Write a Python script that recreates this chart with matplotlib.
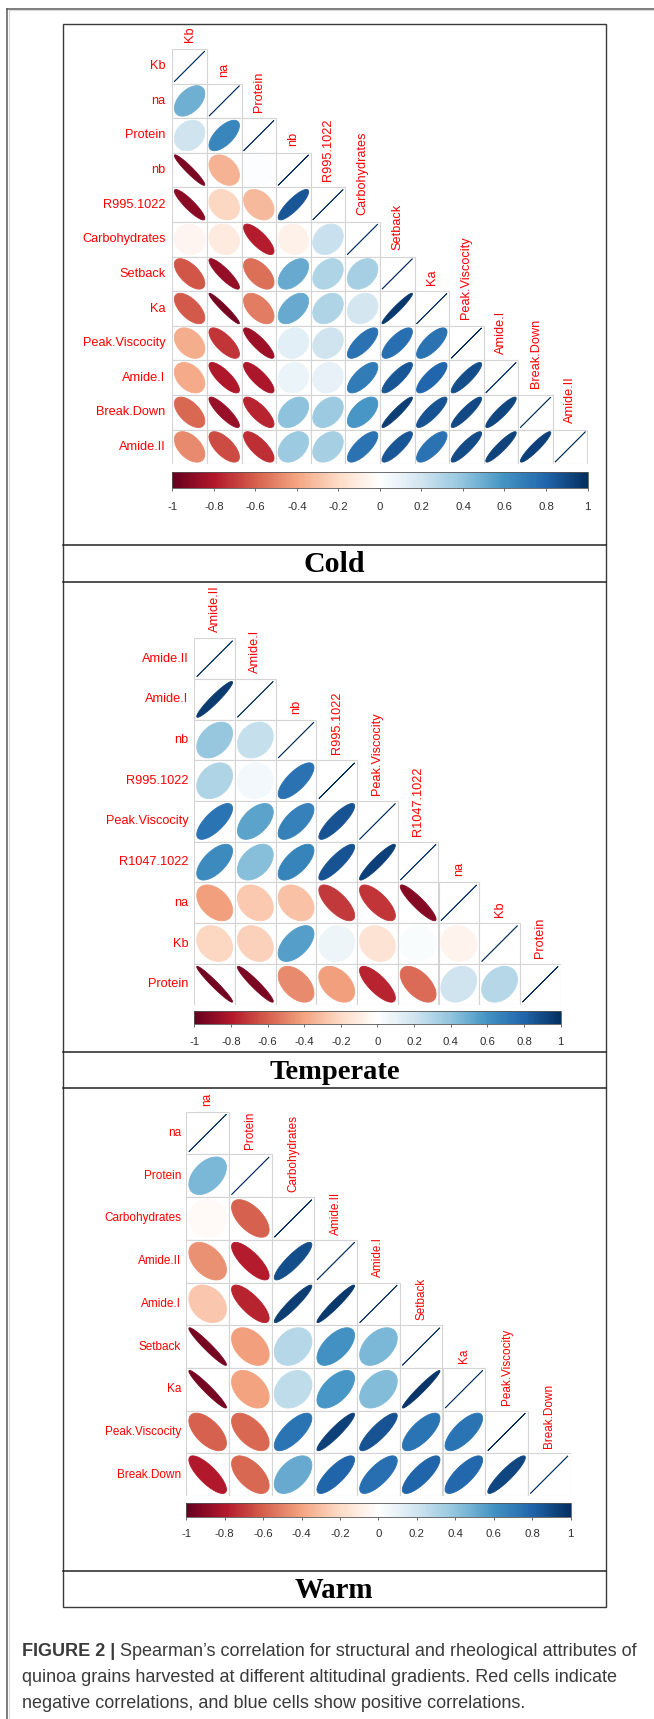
import numpy as np
import matplotlib.pyplot as plt
from matplotlib.colors import LinearSegmentedColormap, Normalize
from matplotlib.patches import Rectangle, Polygon
from matplotlib.cm import ScalarMappable

W, H = 654, 1719
plt.rcParams['font.family'] = ['Liberation Sans', 'DejaVu Sans']

# red-white-blue palette used by corrplot
rdbu = ["#67001F", "#B2182B", "#D6604D", "#F4A582", "#FDDBC7", "#FFFFFF",
        "#D1E5F0", "#92C5DE", "#4393C3", "#2166AC", "#053061"]
cmap = LinearSegmentedColormap.from_list("corr_rdbu", rdbu, N=200)
norm = Normalize(-1, 1)

cb_ticks = [-1, -0.8, -0.6, -0.4, -0.2, 0, 0.2, 0.4, 0.6, 0.8, 1]
cb_labels = ["-1", "-0.8", "-0.6", "-0.4", "-0.2", "0", "0.2", "0.4", "0.6", "0.8", "1"]

# --------------------------
# Spearman correlations (lower triangle, row by row)
# --------------------------
cold_vars = ["Kb", "na", "Protein", "nb", "R995.1022", "Carbohydrates", "Setback",
             "Ka", "Peak.Viscocity", "Amide.I", "Break.Down", "Amide.II"]
cold_lower = [
    [],
    [0.48],
    [0.20, 0.65],
    [-0.95, -0.35, 0.01],
    [-0.90, -0.22, -0.33, 0.85],
    [-0.06, -0.12, -0.78, -0.08, 0.22],
    [-0.63, -0.88, -0.55, 0.50, 0.30, 0.33],
    [-0.62, -0.96, -0.52, 0.50, 0.30, 0.18, 0.96],
    [-0.37, -0.72, -0.86, 0.12, 0.20, 0.74, 0.75, 0.74],
    [-0.38, -0.80, -0.81, 0.08, 0.10, 0.70, 0.85, 0.79, 0.88],
    [-0.58, -0.87, -0.77, 0.40, 0.36, 0.58, 0.94, 0.86, 0.90, 0.91],
    [-0.48, -0.66, -0.74, 0.36, 0.33, 0.74, 0.85, 0.74, 0.89, 0.92, 0.93],
]

temp_vars = ["Amide.II", "Amide.I", "nb", "R995.1022", "Peak.Viscocity",
             "R1047.1022", "na", "Kb", "Protein"]
temp_lower = [
    [],
    [0.95],
    [0.38, 0.23],
    [0.30, 0.05, 0.74],
    [0.73, 0.53, 0.67, 0.86],
    [0.63, 0.42, 0.66, 0.86, 0.93],
    [-0.42, -0.27, -0.30, -0.71, -0.72, -0.91],
    [-0.22, -0.24, 0.55, 0.07, -0.16, 0.02, -0.07],
    [-0.97, -0.95, -0.48, -0.42, -0.77, -0.56, 0.20, 0.28],
]

warm_vars = ["na", "Protein", "Carbohydrates", "Amide.II", "Amide.I", "Setback",
             "Ka", "Peak.Viscocity", "Break.Down"]
warm_lower = [
    [],
    [0.45],
    [-0.03, -0.60],
    [-0.46, -0.78, 0.88],
    [-0.28, -0.77, 0.94, 0.96],
    [-0.96, -0.42, 0.28, 0.60, 0.45],
    [-0.96, -0.41, 0.25, 0.58, 0.43, 0.97],
    [-0.60, -0.58, 0.73, 0.93, 0.86, 0.73, 0.73],
    [-0.79, -0.58, 0.50, 0.80, 0.75, 0.80, 0.78, 0.91],
]

fig = plt.figure(figsize=(W / 100, H / 100), dpi=100)

# page-level axes in pixel units for frames, titles and caption
bg = fig.add_axes([0, 0, 1, 1])
bg.set_xlim(0, W)
bg.set_ylim(H, 0)
bg.axis('off')

t = np.linspace(0, 2 * np.pi, 120)


def ellipse(r, cx, cy):
    # corrplot-style ellipse: axes shrink with |r|, tilt follows the sign
    a = np.arccos(np.clip(r, -1, 1)) / 2
    ex = 0.88 * np.cos(t + a) / 2
    ey = 0.88 * np.cos(t - a) / 2
    return np.column_stack([cx + ex, cy - ey])


def corr_panel(names, lower, left, top, cell, fs, gap, cb_gap, cb_h, cb_pad):
    n = len(names)
    size = n * cell
    ax = fig.add_axes([left / W, 1 - (top + size) / H, size / W, size / H])
    ax.set_xlim(0, n)
    ax.set_ylim(n, 0)
    ax.axis('off')
    g = gap / cell
    lab = dict(color='#ff0000', fontsize=fs, clip_on=False)
    for i in range(n):
        row = list(lower[i]) + [1.0]
        for j, r in enumerate(row):
            ax.add_patch(Rectangle((j, i), 1, 1, facecolor='white',
                                   edgecolor='#d4d4d4', lw=0.8, zorder=1))
            c = cmap(norm(r))
            ax.add_patch(Polygon(ellipse(r, j + 0.5, i + 0.5), closed=True,
                                 facecolor=c, edgecolor=c, lw=0.6, zorder=2))
        ax.text(-g, i + 0.5, names[i], ha='right', va='center', **lab)
        ax.text(i + 0.5, i - g, names[i], ha='center', va='bottom', rotation=90, **lab)

    cb_top = top + size + cb_gap
    cax = fig.add_axes([left / W, 1 - (cb_top + cb_h) / H, size / W, cb_h / H])
    cb = fig.colorbar(ScalarMappable(norm=norm, cmap=cmap), cax=cax,
                      orientation='horizontal')
    cb.set_ticks(cb_ticks)
    cb.set_ticklabels(cb_labels)
    cb.outline.set_linewidth(0.6)
    cb.outline.set_edgecolor('#555555')
    cax.tick_params(axis='x', length=2.2, width=0.6, color='#555555',
                    labelsize=8.2, labelcolor='#2e2e2e', pad=cb_pad)


corr_panel(cold_vars, cold_lower, 172.3, 49.0, 34.6, 9.2, 6.6, 8.0, 15.4, 8.3)
corr_panel(temp_vars, temp_lower, 194.3, 638.3, 40.7, 9.2, 6.0, 6.4, 13.3, 7.3)
corr_panel(warm_vars, warm_lower, 186.3, 1111.7, 42.7, 8.5, 5.2, 6.7, 14.0, 6.3)

# page border
bg.plot([7.3, 7.3], [H + 5, 9], color='#5a5a5a', lw=1.1)
bg.plot([7.3, W + 5], [9, 9], color='#5a5a5a', lw=1.1)
bg.plot([8.8, 8.8], [H + 5, 10.5], color='#d8d8d8', lw=0.8)
bg.plot([8.8, W + 5], [10.5, 10.5], color='#d8d8d8', lw=0.8)

# panel frame and dividers
bx0, bx1, by0, by1 = 62.7, 606.0, 24.3, 1606.7
bg.add_patch(Rectangle((bx0, by0), bx1 - bx0, by1 - by0, fill=False,
                       edgecolor='#3a3a3a', lw=1.0))
dividers = [545.0, 581.7, 1052.3, 1088.3, 1570.7]
for yd in dividers:
    bg.plot([bx0, bx1], [yd, yd], color='#222222', lw=1.1)

titles = ["Cold", "Temperate", "Warm"]
title_tops = [545.0, 1052.3, 1570.7]
title_sizes = [21.5, 20.5, 20.8]
for name, yt, fs in zip(titles, title_tops, title_sizes):
    bg.text((bx0 + bx1) / 2, yt + 27, name, ha='center', va='baseline',
            family=['Liberation Serif', 'DejaVu Serif'], fontweight='bold',
            fontsize=fs, color='black')

# caption
cap_color = '#3a3a3a'
cap_x = 21.7
cap_lines = ["Spearman\u2019s correlation for structural and rheological attributes of",
             "quinoa grains harvested at different altitudinal gradients. Red cells indicate",
             "negative correlations, and blue cells show positive correlations."]
cap_base = [1656.5, 1682.0, 1707.5]
head = bg.text(cap_x, cap_base[0], "FIGURE 2 | ", ha='left', va='baseline',
               fontsize=13, fontweight='bold', color=cap_color)
renderer = fig.canvas.get_renderer()
head_w = head.get_window_extent(renderer=renderer).width
bg.text(cap_x + head_w, cap_base[0], cap_lines[0], ha='left', va='baseline',
        fontsize=13, color=cap_color)
for line, yb in zip(cap_lines[1:], cap_base[1:]):
    bg.text(cap_x, yb, line, ha='left', va='baseline', fontsize=13, color=cap_color)

fig.savefig("out.png", dpi=100)
